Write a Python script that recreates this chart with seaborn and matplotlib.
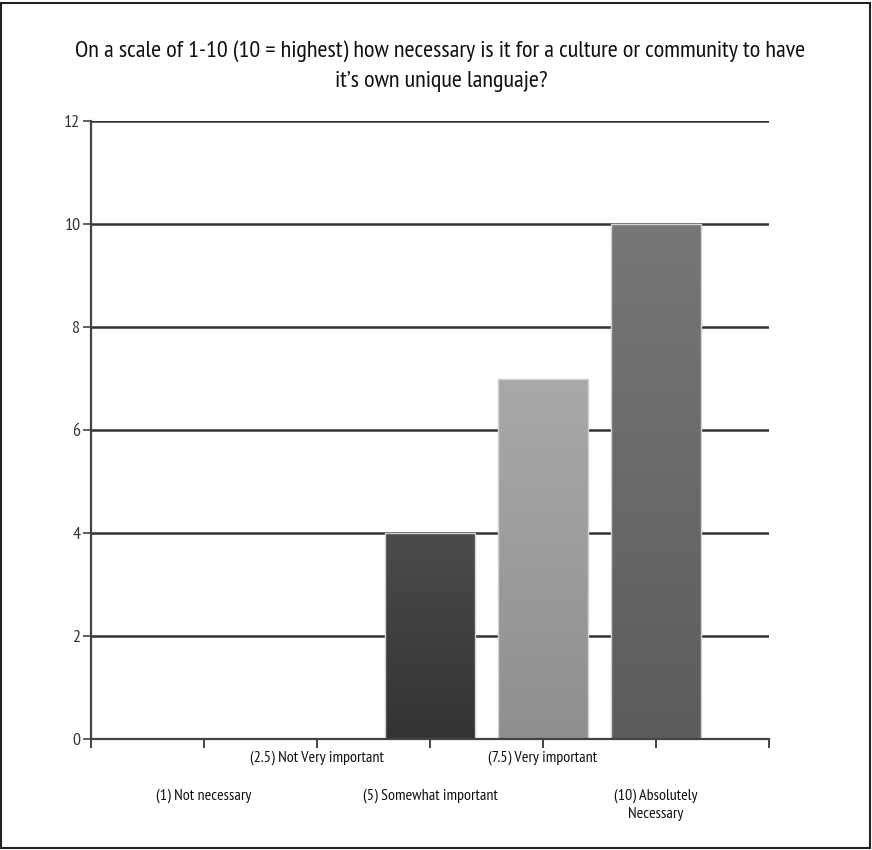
import numpy as np
import pandas as pd
import matplotlib
matplotlib.use("Agg")
import matplotlib.pyplot as plt
import seaborn as sns
from matplotlib.colors import LinearSegmentedColormap
from matplotlib.patches import Rectangle

# Survey answers per rating category
categories = [
    "(1) Not necessary",
    "(2.5) Not Very important",
    "(5) Somewhat important",
    "(7.5) Very important",
    "(10) Absolutely\nNecessary",
]
responses = [0, 0, 4, 7, 10]
y_ticks = [0, 2, 4, 6, 8, 10, 12]
title_lines = [
    "On a scale of 1-10 (10 = highest) how necessary is it for a culture or community to have",
    "it\u2019s own unique languaje?",
]

# Bar shading: colour at the top and bottom of each bar
bar_top = ["#555555", "#555555", "#4b4b4b", "#a9a9a9", "#777777"]
bar_bottom = ["#333333", "#333333", "#333333", "#8f8f8f", "#5c5c5c"]

sns.set_theme(style="white")
plt.rcParams["font.family"] = ["PT Sans Narrow", "Archivo Narrow", "Roboto Condensed",
                               "Open Sans Condensed", "DejaVu Sans"]

W, H = 872, 850
fig = plt.figure(figsize=(W / 100, H / 100), dpi=100)
ax = fig.add_axes([91 / W, 1 - 739 / H, (769 - 91) / W, (739 - 121) / H])

df = pd.DataFrame({"category": categories, "responses": responses})
mid = [sns.blend_palette([t, b], 3)[1] for t, b in zip(bar_top, bar_bottom)]
sns.barplot(data=df, x="category", y="responses", hue="category",
            palette=mid, legend=False, width=0.79, saturation=1,
            edgecolor="#d2d2d2", linewidth=1.0, ax=ax)

# Vertical gradient fill inside each bar
grad = np.linspace(0, 1, 256).reshape(-1, 1)
for container, top, bot in zip(ax.containers, bar_top, bar_bottom):
    cmap = LinearSegmentedColormap.from_list("shade", [bot, top])
    for bar in container:
        h = bar.get_height()
        if h <= 0:
            continue
        x0 = bar.get_x()
        x1 = x0 + bar.get_width()
        z = bar.get_zorder()
        im = ax.imshow(grad, cmap=cmap, extent=[x0, x1, 0, h], origin="lower",
                       aspect="auto", zorder=z + 0.1, interpolation="bicubic")
        im.set_clip_path(bar)
        bar.set_facecolor("none")
        bar.set_zorder(z + 0.2)

ax.set_xlim(-1, len(categories))
ax.set_ylim(0, 12)
ax.set_yticks(y_ticks)
ax.set_yticklabels([str(v) for v in y_ticks])
ax.set_xticks(range(-1, len(categories) + 1))
ax.set_xticklabels([""] + categories + [""])
ax.set_xlabel("")
ax.set_ylabel("")

# Horizontal grid behind the bars
ax.set_axisbelow(True)
ax.yaxis.grid(True, color="#333333", linewidth=1.8)
ax.xaxis.grid(False)

for side in ["top", "right"]:
    ax.spines[side].set_visible(False)
for side in ["left", "bottom"]:
    ax.spines[side].set_color("#444444")
    ax.spines[side].set_linewidth(1.6)

ax.tick_params(axis="y", which="major", left=True, length=5.5, width=1.2,
               color="#444444", labelsize=13, labelcolor="#333333", pad=2)
ax.tick_params(axis="x", which="major", bottom=True, length=6.5, width=1.4,
               color="#444444", labelsize=11.5, labelcolor="#111111")

# Stagger the category labels over two rows
for i, tick in enumerate(ax.xaxis.get_major_ticks()):
    tick.set_pad(1.5 if i in (2, 4) else 29)
for lbl in ax.get_xticklabels():
    lbl.set_multialignment("center")
    lbl.set_linespacing(1.35)

fig.text(440 / W, 1 - 57 / H, title_lines[0], ha="center", va="baseline",
         fontsize=17.5, color="#111111")
fig.text(441 / W, 1 - 87 / H, title_lines[1], ha="center", va="baseline",
         fontsize=17.5, color="#111111")

# Frame around the whole figure
fig.patches.append(Rectangle((1 / W, 2 / H), 869 / W, 845 / H,
                             transform=fig.transFigure, fill=False,
                             edgecolor="#222222", linewidth=1.5))

fig.savefig("out.png", dpi=100)
